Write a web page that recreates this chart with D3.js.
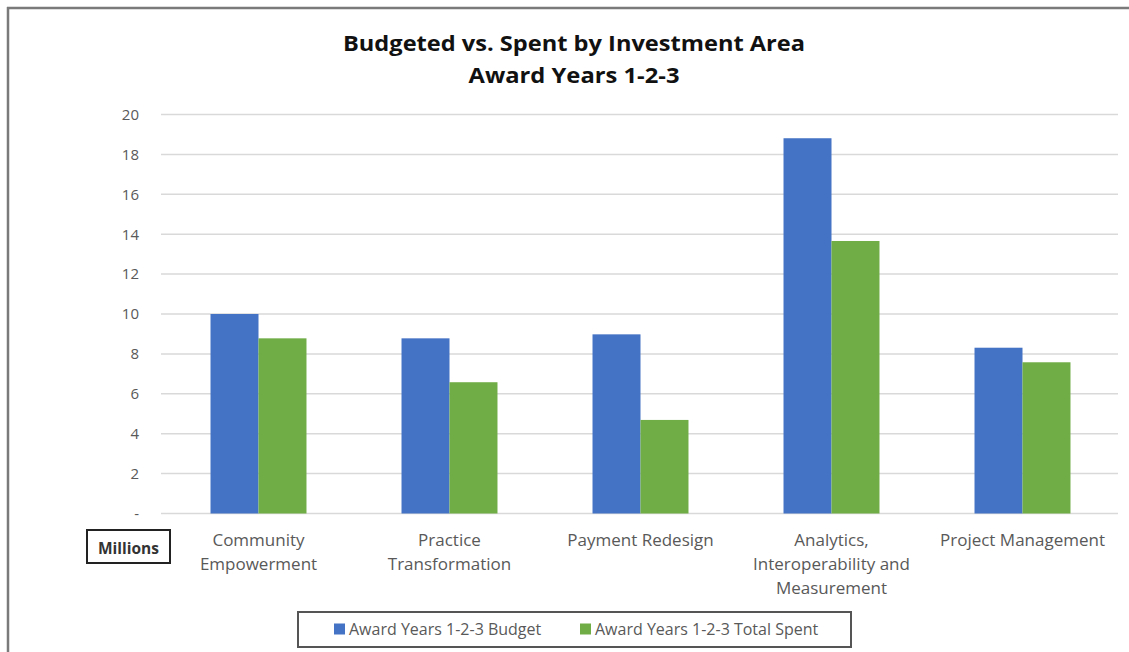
<!DOCTYPE html>
<html>
<head>
<meta charset="utf-8">
<script src="https://cdn.jsdelivr.net/npm/d3@7"></script>
<style>
  body { margin: 0; background: #fff; }
  svg { display: block; font-family: "Open Sans", "Noto Sans", sans-serif; }
</style>
</head>
<body>
<div id="chart"></div>
<script>
// Chart data (millions)
const categories = [
    ["Community", "Empowerment"],
    ["Practice", "Transformation"],
    ["Payment Redesign"],
    ["Analytics,", "Interoperability and", "Measurement"],
    ["Project Management"]
];
const budget = [10.0, 8.78, 8.98, 18.81, 8.31];
const spent = [8.78, 6.58, 4.69, 13.66, 7.58];
const seriesNames = ["Award Years 1-2-3 Budget", "Award Years 1-2-3 Total Spent"];
const seriesColors = ["#4472c4", "#70ad47"];
const yTicks = [0, 2, 4, 6, 8, 10, 12, 14, 16, 18, 20];

const width = 1129, height = 652;
const plot = { left: 163, right: 1118, top: 114.5, bottom: 513.5 };

const svg = d3.select("#chart")
    .append("svg")
    .attr("width", width)
    .attr("height", height);

// outer frame (top and left edges visible)
svg.append("line")
    .attr("x1", 7).attr("x2", width).attr("y1", 8).attr("y2", 8)
    .attr("stroke", "#7a7a7a").attr("stroke-width", 2.5);
svg.append("line")
    .attr("x1", 8).attr("x2", 8).attr("y1", 7).attr("y2", height)
    .attr("stroke", "#7a7a7a").attr("stroke-width", 2.5);

// title
svg.append("text")
    .attr("x", 574).attr("y", 51)
    .attr("text-anchor", "middle")
    .attr("font-size", 21).attr("font-weight", "bold").attr("fill", "#111")
    .attr("textLength", 462).attr("lengthAdjust", "spacingAndGlyphs")
    .text("Budgeted vs. Spent by Investment Area");
svg.append("text")
    .attr("x", 574).attr("y", 83)
    .attr("text-anchor", "middle")
    .attr("font-size", 21).attr("font-weight", "bold").attr("fill", "#111")
    .attr("textLength", 211).attr("lengthAdjust", "spacingAndGlyphs")
    .text("Award Years 1-2-3");

const y = d3.scaleLinear()
    .domain([0, 20])
    .range([plot.bottom, plot.top]);

const x0 = d3.scaleBand()
    .domain(d3.range(categories.length))
    .range([plot.left, plot.right])
    .padding(0);

const x1 = d3.scaleBand()
    .domain([0, 1])
    .range([0, x0.bandwidth()])
    .paddingInner(0)
    .paddingOuter(0.99);

// gridlines
svg.append("g")
    .selectAll("line")
    .data(yTicks)
    .enter()
    .append("line")
    .attr("x1", plot.left - 2).attr("x2", plot.right)
    .attr("y1", d => y(d)).attr("y2", d => y(d))
    .attr("stroke", "#d9d9d9").attr("stroke-width", 1.5);

// y axis labels
const yAxis = d3.axisLeft(y)
    .tickValues(yTicks)
    .tickSize(0)
    .tickPadding(0)
    .tickFormat(d => d === 0 ? "-" : d);

svg.append("g")
    .attr("transform", "translate(139,0)")
    .call(yAxis)
    .call(g => g.select(".domain").remove())
    .call(g => g.selectAll("text")
        .attr("font-family", "'Open Sans', sans-serif")
        .attr("font-size", 15)
        .attr("fill", "#595959"));

// bars
const groups = svg.append("g")
    .selectAll("g")
    .data(categories.map((c, i) => [budget[i], spent[i]]))
    .enter()
    .append("g")
    .attr("transform", (d, i) => "translate(" + x0(i) + ",0)");

groups.selectAll("rect")
    .data(d => d)
    .enter()
    .append("rect")
    .attr("x", (d, j) => x1(j))
    .attr("width", x1.bandwidth())
    .attr("y", d => y(d))
    .attr("height", d => y(0) - y(d))
    .attr("fill", (d, j) => seriesColors[j]);

// category labels
const catLabels = svg.append("g")
    .selectAll("text")
    .data(categories)
    .enter()
    .append("text")
    .attr("text-anchor", "middle")
    .attr("font-size", 17)
    .attr("fill", "#595959")
    .attr("x", (d, i) => x0(i) + x0.bandwidth() / 2)
    .attr("y", 546);

catLabels.selectAll("tspan")
    .data(d => d)
    .enter()
    .append("tspan")
    .attr("x", function () { return d3.select(this.parentNode).attr("x"); })
    .attr("dy", (d, k) => k === 0 ? 0 : 24)
    .text(d => d);

// "Millions" box
svg.append("rect")
    .attr("x", 87).attr("y", 530).attr("width", 83).attr("height", 33)
    .attr("fill", "#fff").attr("stroke", "#222").attr("stroke-width", 2);
svg.append("text")
    .attr("x", 128.5).attr("y", 553.5)
    .attr("text-anchor", "middle")
    .attr("font-size", 15.5).attr("font-weight", "bold").attr("fill", "#333")
    .text("Millions");

// legend
svg.append("rect")
    .attr("x", 298).attr("y", 612).attr("width", 553).attr("height", 35)
    .attr("fill", "#fff").attr("stroke", "#555").attr("stroke-width", 2);

const legendX = [334, 580];
const legend = svg.append("g")
    .selectAll("g")
    .data(seriesNames)
    .enter()
    .append("g")
    .attr("transform", (d, i) => "translate(" + legendX[i] + ",629)");

legend.append("rect")
    .attr("x", 0).attr("y", -5.5).attr("width", 11).attr("height", 11)
    .attr("fill", (d, i) => seriesColors[i]);

legend.append("text")
    .attr("x", 15).attr("y", 5.5)
    .attr("font-size", 16).attr("fill", "#595959")
    .text(d => d);
</script>
</body>
</html>
